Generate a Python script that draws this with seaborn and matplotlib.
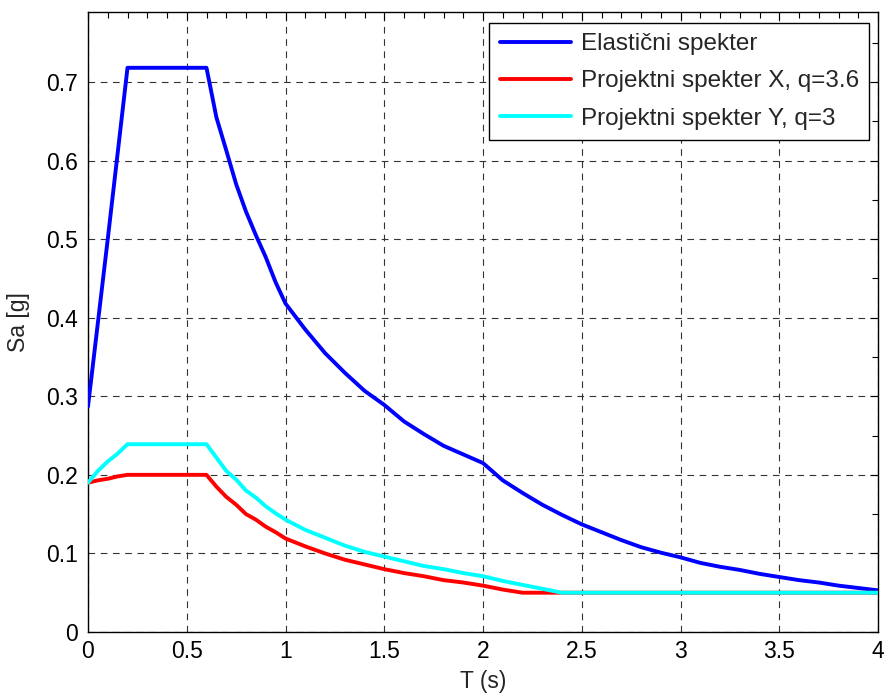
import numpy as np
import pandas as pd
import matplotlib
matplotlib.use("Agg")
import matplotlib.pyplot as plt
from matplotlib.ticker import MultipleLocator
import seaborn as sns

# ---- data ----
T_el = [0.0, 0.1, 0.2, 0.6, 0.65, 0.7, 0.75, 0.8, 0.85, 0.9, 0.95, 1.0, 1.1, 1.2, 1.3, 1.4, 1.5,
        1.6, 1.7, 1.8, 1.9, 2.0, 2.1, 2.2, 2.3, 2.4, 2.5, 2.6, 2.7, 2.8, 2.9, 3.0, 3.1, 3.2,
        3.3, 3.4, 3.5, 3.6, 3.7, 3.8, 3.9, 4.0]
Sa_el = [0.287, 0.50, 0.718, 0.718, 0.655, 0.613, 0.570, 0.535, 0.505, 0.477, 0.445, 0.418,
         0.385, 0.355, 0.330, 0.307, 0.289, 0.268, 0.252, 0.237, 0.226, 0.215, 0.193, 0.177,
         0.162, 0.149, 0.137, 0.127, 0.117, 0.108, 0.101, 0.095, 0.088, 0.083, 0.079, 0.074,
         0.070, 0.066, 0.063, 0.059, 0.056, 0.053]

T_x = [0.0, 0.05, 0.1, 0.15, 0.2, 0.6, 0.65, 0.7, 0.75, 0.8, 0.85, 0.9, 0.95, 1.0, 1.1, 1.2,
       1.3, 1.4, 1.5, 1.6, 1.7, 1.8, 1.9, 2.0, 2.1, 2.2, 4.0]
Sa_x = [0.190, 0.193, 0.195, 0.198, 0.200, 0.200, 0.185, 0.172, 0.162, 0.150, 0.143, 0.134,
        0.127, 0.119, 0.109, 0.100, 0.092, 0.086, 0.080, 0.075, 0.071, 0.066, 0.063, 0.059,
        0.054, 0.050, 0.050]

T_y = [0.0, 0.05, 0.1, 0.15, 0.2, 0.6, 0.65, 0.7, 0.75, 0.8, 0.85, 0.9, 0.95, 1.0, 1.1, 1.2,
       1.3, 1.4, 1.5, 1.6, 1.7, 1.8, 1.9, 2.0, 2.1, 2.2, 2.3, 2.4, 4.0]
Sa_y = [0.190, 0.205, 0.217, 0.227, 0.239, 0.239, 0.222, 0.205, 0.194, 0.180, 0.171, 0.160,
        0.151, 0.143, 0.130, 0.120, 0.110, 0.102, 0.096, 0.090, 0.084, 0.080, 0.075, 0.071,
        0.065, 0.060, 0.055, 0.050, 0.050]

labels = ["Elastični spekter", "Projektni spekter X, q=3.6", "Projektni spekter Y, q=3"]
colors = ["#0000ff", "#ff0000", "#00ffff"]
x_ticks = [0, 0.5, 1, 1.5, 2, 2.5, 3, 3.5, 4]
x_ticklabels = ["0", "0.5", "1", "1.5", "2", "2.5", "3", "3.5", "4"]
y_ticks = [0, 0.1, 0.2, 0.3, 0.4, 0.5, 0.6, 0.7]
y_ticklabels = ["0", "0.1", "0.2", "0.3", "0.4", "0.5", "0.6", "0.7"]

sns.set_style("white")
plt.rcParams["font.family"] = ["Liberation Sans", "DejaVu Sans"]
FS = 16.5
LFS = 17.5

fig = plt.figure(figsize=(8.85, 6.95), dpi=100)
ax = fig.add_axes([88 / 885, 63 / 695, 790 / 885, 620 / 695])

for T, Sa, lab, c in zip([T_el, T_x, T_y], [Sa_el, Sa_x, Sa_y], labels, colors):
    df = pd.DataFrame({"T": T, "Sa": Sa})
    sns.lineplot(data=df, x="T", y="Sa", ax=ax, color=c, lw=2.8, label=lab,
                 estimator=None, sort=False, zorder=3)

ax.set_xlim(0, 4)
ax.set_ylim(0, 0.789)
ax.set_xticks(x_ticks)
ax.set_xticklabels(x_ticklabels)
ax.set_yticks(y_ticks)
ax.set_yticklabels(y_ticklabels)
ax.xaxis.set_minor_locator(MultipleLocator(0.1))
ax.yaxis.set_minor_locator(MultipleLocator(0.05))
ax.tick_params(which="both", direction="in", top=True, right=True, colors="black",
               labelsize=FS, width=0.8)
ax.tick_params(which="major", length=6, pad=6)
ax.tick_params(axis="y", which="major", pad=7)
ax.tick_params(which="minor", length=4)
ax.grid(True, which="major", color="#333333", linestyle=(0, (6, 5)), linewidth=0.8)
for s in ax.spines.values():
    s.set_visible(True)
    s.set_color("black")
    s.set_linewidth(1.0)

ax.set_xlabel("T (s)", fontsize=FS, labelpad=5)
ax.set_ylabel("Sa [g]", fontsize=FS, labelpad=12)

leg = ax.legend(loc="upper right", bbox_to_anchor=(0.989, 0.982), fontsize=LFS,
                frameon=True, fancybox=False, edgecolor="black", framealpha=1,
                handlelength=2.95, handletextpad=0.4, borderpad=0.42, labelspacing=0.62,
                borderaxespad=0)
leg.get_frame().set_linewidth(1.0)

fig.savefig("out.png", dpi=100)
